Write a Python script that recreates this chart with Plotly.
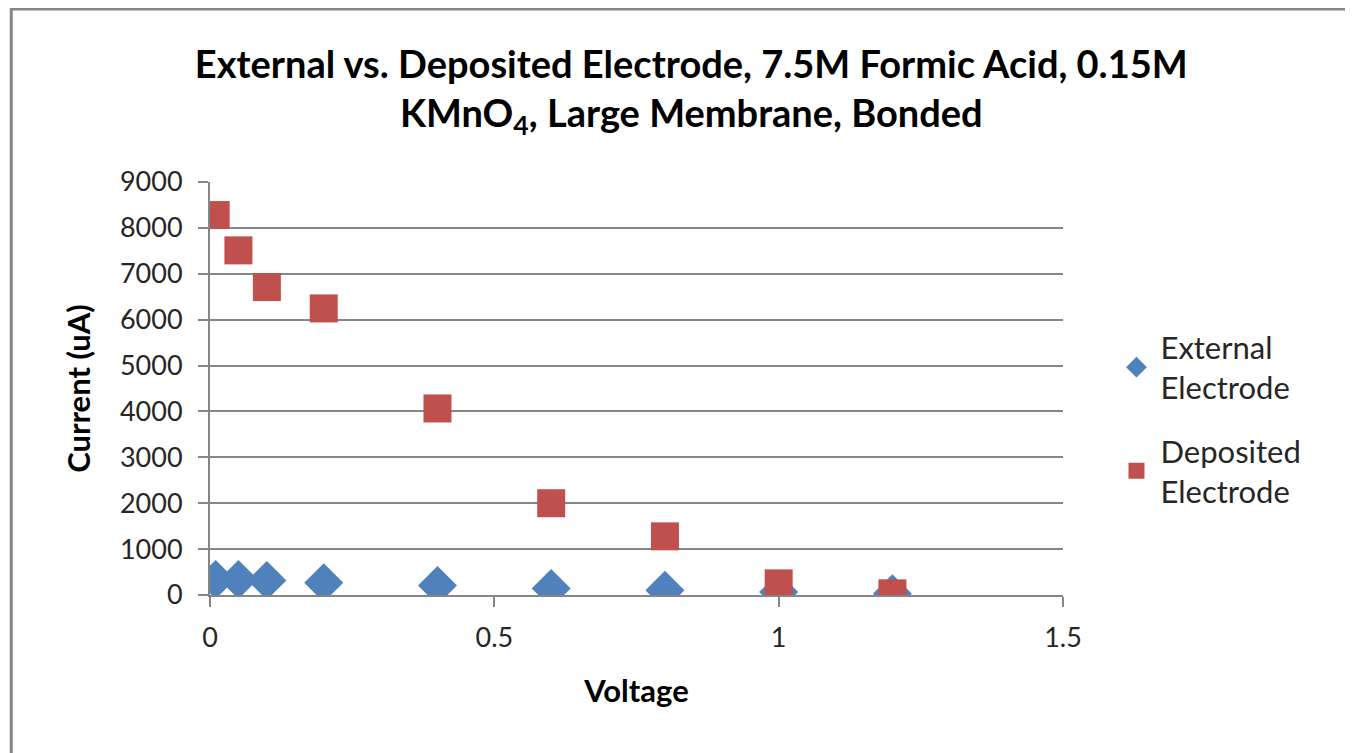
import plotly.graph_objects as go

voltage = [0.01, 0.05, 0.1, 0.2, 0.4, 0.6, 0.8, 1.0, 1.2]
external_current = [340, 340, 318, 267, 209, 144, 101, 65, 29]
deposited_current = [8280, 7510, 6710, 6245, 4065, 2000, 1278, 253, 36]

x_ticks = [0, 0.5, 1, 1.5]
y_ticks = [0, 1000, 2000, 3000, 4000, 5000, 6000, 7000, 8000, 9000]

FONT = "Lato"
fig = go.Figure()
fig.add_trace(go.Scatter(
    x=voltage, y=external_current, mode="markers",
    name="External<br>Electrode", legendgroup="ext",
    marker=dict(symbol="diamond", size=30, color="#4F81BD"),
))
fig.add_trace(go.Scatter(
    x=voltage, y=deposited_current, mode="markers",
    name="Deposited<br>Electrode", legendgroup="dep",
    marker=dict(symbol="square", size=28, color="#C0504D"),
))

fig.update_layout(
    width=1353, height=753,
    margin=dict(l=202, r=298, t=174, b=166),
    paper_bgcolor="white", plot_bgcolor="white",
    font=dict(family=FONT, size=27, color="#262626"),
    title=dict(
        text="External vs. Deposited Electrode, 7.5M Formic Acid, 0.15M<br>KMnO<sub>4</sub>, Large Membrane, Bonded",
        x=0.505, xanchor="center", y=0.907, yanchor="middle",
        font=dict(family=FONT, size=38, color="black", weight="bold"),
    ),
    xaxis=dict(
        range=[0, 1.5], tickvals=x_ticks, ticktext=[str(v) for v in x_ticks],
        showgrid=False, zeroline=False,
        showline=True, linecolor="#868686", linewidth=2,
        ticks="outside", ticklen=10, tickcolor="#868686", tickwidth=2,
        ticklabelstandoff=8,
        tickfont=dict(size=27, color="#262626"),
        title=dict(text="<b>Voltage</b>", font=dict(size=31, color="black"), standoff=28),
    ),
    yaxis=dict(
        range=[0, 9000], tickvals=y_ticks,
        showgrid=True, gridcolor="#868686", gridwidth=2,
        zeroline=False,
        showline=True, linecolor="#868686", linewidth=2,
        ticks="outside", ticklen=10, tickcolor="#868686", tickwidth=2,
        ticklabelstandoff=10,
        tickfont=dict(size=27, color="#262626"),
        title=dict(text="<b>Current (uA)</b>", font=dict(size=31, color="black"), standoff=20),
    ),
    legend=dict(
        x=1.058, y=0.665, xanchor="left", yanchor="top",
        font=dict(size=31, color="#262626"),
        traceorder="grouped", tracegroupgap=20, itemsizing="trace",
        itemwidth=38,
    ),
    showlegend=True,
)

# outer chart border (left and top visible in reference)
fig.add_shape(type="line", xref="paper", yref="paper",
              x0=-0.233, x1=-0.233, y0=-0.5, y1=1.43,
              line=dict(color="#868686", width=3))
fig.add_shape(type="line", xref="paper", yref="paper",
              x0=-0.233, x1=1.5, y0=1.419, y1=1.419,
              line=dict(color="#868686", width=3))

fig.write_html("out.html")
